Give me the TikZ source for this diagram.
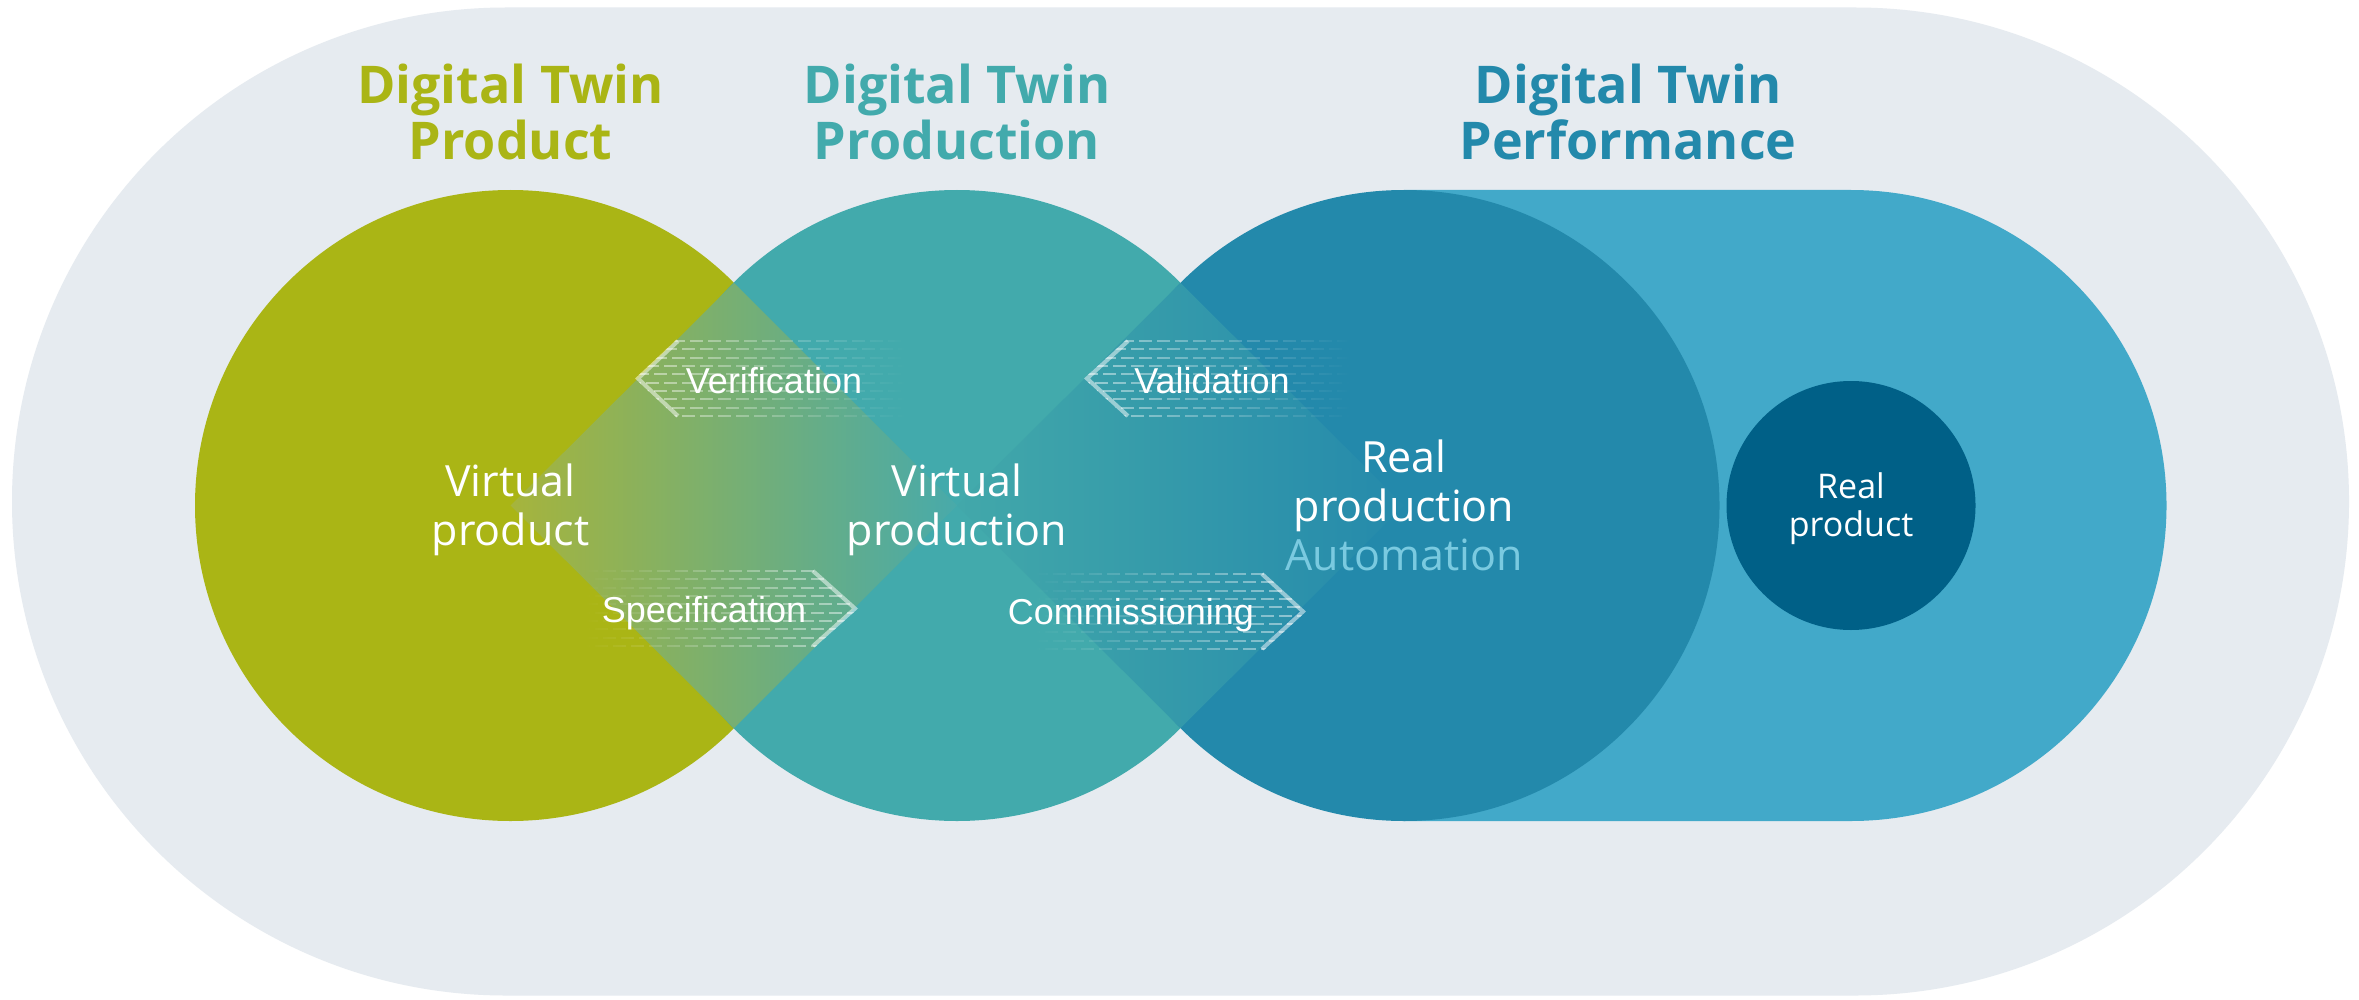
\documentclass[tikz,border=0pt]{standalone}
\usepackage{fontspec}
\setmainfont{Open Sans}
\newfontfamily\arrowfont{Liberation Sans}
\usetikzlibrary{fadings}

\definecolor{bggray}{RGB}{230,235,240}
\definecolor{dtgreen}{RGB}{170,181,21}
\definecolor{dtteal}{RGB}{66,170,172}
\definecolor{dtblue}{RGB}{35,137,171}
\definecolor{dtlight}{RGB}{66,169,201}
\definecolor{dtnavy}{RGB}{0,96,135}
\definecolor{dtauto}{RGB}{122,202,224}

\tikzfading[name=fade right, left color=transparent!10, right color=transparent!100]
\tikzfading[name=fade left, left color=transparent!100, right color=transparent!10]

\tikzset{
  heading/.style={font=\fontsize{26}{27}\selectfont\bfseries, anchor=base, inner sep=0pt},
  body/.style={font=\fontsize{21.5}{24}\selectfont, text=white, anchor=base, inner sep=0pt},
  smallbody/.style={font=\fontsize{17}{19}\selectfont, text=white, anchor=base, inner sep=0pt},
  steplabel/.style={font=\arrowfont\fontsize{18}{20}\selectfont, text=white, anchor=base, inner sep=0pt},
  chevron/.style={draw=white, draw opacity=0.5, line width=2pt},
  hatch/.style={draw=white, draw opacity=0.55, line width=1.1pt, dash pattern=on 6.5pt off 2.5pt},
}

\begin{document}
\begin{tikzpicture}[x=0.5pt,y=0.5pt,yscale=-1,xscale=1]
\fill[white] (0,0) rectangle (2359,1000);
\path[use as bounding box] (0,0) rectangle (2359,1000);

%Shape: Stadium background
\fill[bggray] (506,7.5) -- (1855,7.5) arc[start angle=-90, end angle=90, radius=494] -- (506,995.5) arc[start angle=90, end angle=270, radius=494] -- cycle;
%Shape: Pill
\fill[dtlight] (1404,190) -- (1851,190) arc[start angle=-90, end angle=90, radius=315.5] -- (1404,821) -- cycle;
%Shape: Circles
\fill[dtgreen] (510.5,505.5) circle[radius=315.5];
\fill[dtteal] (957,505.5) circle[radius=315.5];
\fill[dtblue] (1404,505.5) circle[radius=315.5];
\fill[dtnavy] (1851,505.5) circle[radius=124.5];

%Shape: Diamonds
\shade[left color={rgb,255:red,166;green,180;blue,60}, right color={rgb,255:red,72;green,170;blue,170}] (510.5,505.5) -- (734,283) -- (957,505.5) -- (734,728) -- cycle;
\shade[left color={rgb,255:red,66;green,168;blue,170}, right color={rgb,255:red,37;green,138;blue,171}] (957,505.5) -- (1180.5,283) -- (1404,505.5) -- (1180.5,728) -- cycle;

%Arrow: Verification
\begin{scope}
\clip (635,378.5) -- (678,338) -- (910,338) -- (910,419) -- (678,419) -- cycle;
\draw[hatch, path fading=fade right] foreach \k in {0,2,4,6,8} {(636,{341+\k*8.333}) -- (905,{341+\k*8.333})};
\draw[hatch, dash phase=4pt, path fading=fade right] foreach \k in {1,3,5,7,9} {(636,{341+\k*8.333}) -- (905,{341+\k*8.333})};
\end{scope}
\draw[chevron] (678,341) -- (638,378.5) -- (678,416);

%Arrow: Specification
\begin{scope}
\clip (858,608.5) -- (813,568) -- (580,568) -- (580,649) -- (813,649) -- cycle;
\draw[hatch, path fading=fade left] foreach \k in {0,2,4,6,8} {(585,{571+\k*8.333}) -- (856,{571+\k*8.333})};
\draw[hatch, dash phase=4pt, path fading=fade left] foreach \k in {1,3,5,7,9} {(585,{571+\k*8.333}) -- (856,{571+\k*8.333})};
\end{scope}
\draw[chevron] (813,571) -- (855,608.5) -- (813,646);

%Arrow: Validation
\begin{scope}
\clip (1084,378.5) -- (1128,338) -- (1360,338) -- (1360,419) -- (1128,419) -- cycle;
\draw[hatch, path fading=fade right] foreach \k in {0,2,4,6,8} {(1085,{341+\k*8.333}) -- (1350,{341+\k*8.333})};
\draw[hatch, dash phase=4pt, path fading=fade right] foreach \k in {1,3,5,7,9} {(1085,{341+\k*8.333}) -- (1350,{341+\k*8.333})};
\end{scope}
\draw[chevron] (1128,341) -- (1087,378.5) -- (1128,416);

%Arrow: Commissioning
\begin{scope}
\clip (1306,611.5) -- (1262,571) -- (1030,571) -- (1030,652) -- (1262,652) -- cycle;
\draw[hatch, path fading=fade left] foreach \k in {0,2,4,6,8} {(1035,{574+\k*8.333}) -- (1304,{574+\k*8.333})};
\draw[hatch, dash phase=4pt, path fading=fade left] foreach \k in {1,3,5,7,9} {(1035,{574+\k*8.333}) -- (1304,{574+\k*8.333})};
\end{scope}
\draw[chevron] (1262,574) -- (1303,611.5) -- (1262,649);

% Text Node
\node[heading, text=dtgreen] (hprodA) at (510.5,104) {Digital Twin};
\node[heading, text=dtgreen] (hprodB) at (510.5,159.5) {Product};
\node[heading, text=dtteal] (hproductionA) at (957,104) {Digital Twin};
\node[heading, text=dtteal] (hproductionB) at (957,159.5) {Production};
\node[heading, text=dtblue] (hperfA) at (1628,104) {Digital Twin};
\node[heading, text=dtblue] (hperfB) at (1628,159.5) {Performance};
% Text Node
\node[body] (vprodA) at (510.5,496) {Virtual};
\node[body] (vprodB) at (510.5,545) {product};
\node[body] (vproductionA) at (957,496) {Virtual};
\node[body] (vproductionB) at (957,545) {production};
\node[body] (rproductionA) at (1404,472) {Real};
\node[body] (rproductionB) at (1404,521) {production};
\node[body, text=dtauto] (automation) at (1404,570) {Automation};
\node[smallbody] (rproductA) at (1851,498) {Real};
\node[smallbody] (rproductB) at (1851,536) {product};
% Text Node
\node[steplabel] (verif) at (774,393) {Verification};
\node[steplabel] (spec) at (704,622) {Specification};
\node[steplabel] (valid) at (1212,393) {Validation};
\node[steplabel] (commis) at (1131,624) {Commissioning};

\end{tikzpicture}
\end{document}
